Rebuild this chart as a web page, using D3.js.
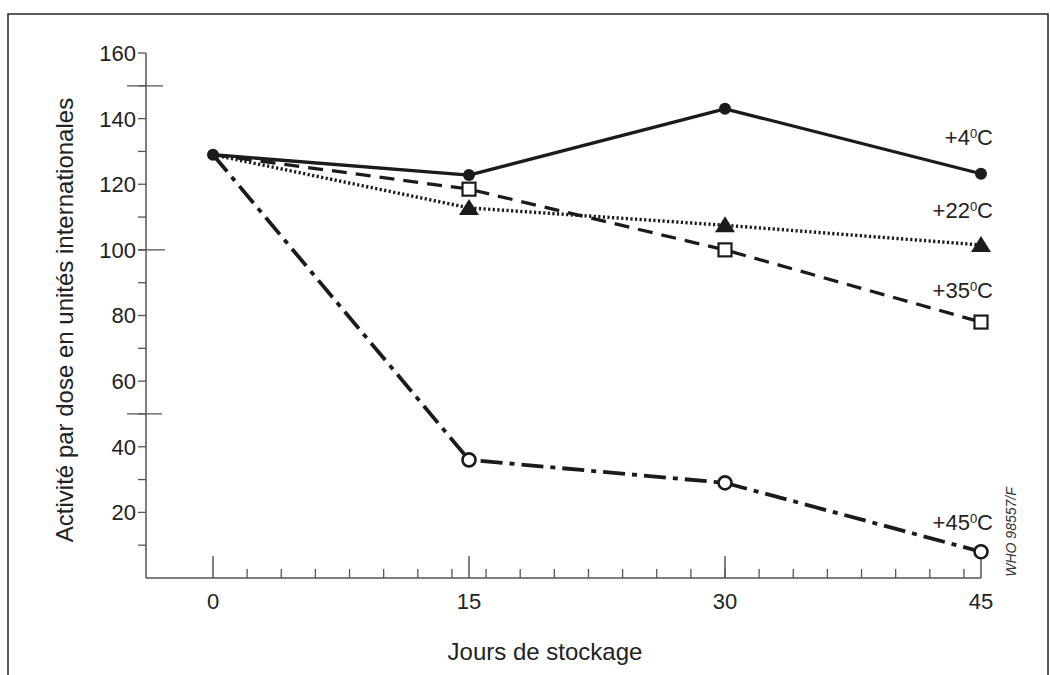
<!DOCTYPE html>
<html>
<head>
<meta charset="utf-8">
<script src="https://cdn.jsdelivr.net/npm/d3@7/dist/d3.min.js"></script>
<style>
  html, body { margin: 0; padding: 0; background: #fff; }
  svg { display: block; font-family: "Liberation Sans", Arial, sans-serif; }
</style>
</head>
<body>
<svg id="chart" width="1050" height="675"></svg>
<script>
// Storage days and activity per dose (international units) for each temperature
const days = [0, 15, 30, 45];
const act4  = [129, 122.8, 143, 123.2];
const act22 = [129, 112.8, 107.5, 101.5];
const act35 = [129, 118.5, 100, 78];
const act45 = [129, 36, 29, 8];
const seriesLabels = ["+4", "+22", "+35", "+45"];
const xTickValues = [0, 15, 30, 45];
const yTickValues = [20, 40, 60, 80, 100, 120, 140, 160];

const svg = d3.select("#chart");
const ink = "#1b1b1b";
const axisInk = "#555";

// frame
svg.append("rect")
  .attr("x", 8).attr("y", 14).attr("width", 1040).attr("height", 700)
  .attr("fill", "none").attr("stroke", "#333").attr("stroke-width", 1.6);

const x = d3.scaleLinear().domain([0, 45]).range([213, 981]);
const y = d3.scaleLinear().domain([0, 160]).range([578, 53]);
const xLeft = 146;

// ---- axes ----
const gAx = svg.append("g");
// y axis line
gAx.append("line").attr("x1", xLeft).attr("x2", xLeft)
  .attr("y1", y(0)).attr("y2", y(160))
  .attr("stroke", axisInk).attr("stroke-width", 1.5);
// x axis line
gAx.append("line").attr("x1", xLeft).attr("x2", x(45))
  .attr("y1", y(0)).attr("y2", y(0))
  .attr("stroke", axisInk).attr("stroke-width", 1.5);

// y ticks every 10 units, pointing left
const yAllTicks = d3.range(10, 161, 10);
gAx.selectAll(".yt").data(yAllTicks).join("line")
  .attr("x1", xLeft - 8).attr("x2", xLeft)
  .attr("y1", d => y(d)).attr("y2", d => y(d))
  .attr("stroke", axisInk).attr("stroke-width", 1.3);
// long cross ticks
const crossTicks = [{v: 150, a: 127, b: 163}, {v: 100, a: 138, b: 165}, {v: 50, a: 127, b: 162}];
gAx.selectAll(".yc").data(crossTicks).join("line")
  .attr("x1", d => d.a).attr("x2", d => d.b)
  .attr("y1", d => y(d.v)).attr("y2", d => y(d.v))
  .attr("stroke", axisInk).attr("stroke-width", 1.3);
// y tick labels
gAx.selectAll(".yl").data(yTickValues).join("text")
  .attr("x", 136).attr("y", d => y(d))
  .attr("dy", "0.36em")
  .attr("text-anchor", "end")
  .attr("font-size", 22).attr("fill", "#222")
  .text(d => d);

// x minor ticks every 2 days, major ticks at 0/15/30/45, pointing up
const xMinor = d3.range(2, 45, 2);
gAx.selectAll(".xm").data(xMinor).join("line")
  .attr("x1", d => x(d)).attr("x2", d => x(d))
  .attr("y1", y(0)).attr("y2", y(0) - 9)
  .attr("stroke", axisInk).attr("stroke-width", 1.3);
gAx.selectAll(".xM").data(xTickValues).join("line")
  .attr("x1", d => x(d)).attr("x2", d => x(d))
  .attr("y1", y(0)).attr("y2", y(0) - 22)
  .attr("stroke", axisInk).attr("stroke-width", 1.5);
gAx.selectAll(".xl").data(xTickValues).join("text")
  .attr("x", d => x(d)).attr("y", 609)
  .attr("text-anchor", "middle")
  .attr("font-size", 22).attr("fill", "#222")
  .text(d => d);

// axis titles
svg.append("text")
  .attr("x", 545).attr("y", 660)
  .attr("text-anchor", "middle")
  .attr("font-size", 24).attr("fill", "#222")
  .text("Jours de stockage");
svg.append("text")
  .attr("transform", "translate(73,320) rotate(-90)")
  .attr("text-anchor", "middle")
  .attr("font-size", 24).attr("fill", "#222")
  .text("Activité par dose en unités internationales");

// reference code
svg.append("text")
  .attr("transform", "translate(1016,532) rotate(-90)")
  .attr("text-anchor", "middle")
  .attr("font-size", 14).attr("font-style", "italic").attr("fill", "#333")
  .text("WHO 98557/F");

// ---- series ----
const line = d3.line().x(d => x(d[0])).y(d => y(d[1]));
const series = [
  {vals: act4,  dash: null,         w: 3.3, label: seriesLabels[0], ly: 145},
  {vals: act22, dash: "2.2,2.4",    w: 3.4, label: seriesLabels[1], ly: 218},
  {vals: act35, dash: "15,9",       w: 3.3, label: seriesLabels[2], ly: 298},
  {vals: act45, dash: "22,7,5,7",   w: 3.8, label: seriesLabels[3], ly: 530}
];
series.forEach(s => {
  s.pts = days.map((d, i) => [d, s.vals[i]]);
  svg.append("path")
    .attr("d", line(s.pts))
    .attr("fill", "none").attr("stroke", ink)
    .attr("stroke-width", s.w)
    .attr("stroke-dasharray", s.dash)
    .attr("stroke-linejoin", "round");
});

// markers
const gm = svg.append("g");
// +45: open circles
gm.selectAll(".m45").data(series[3].pts.slice(1)).join("circle")
  .attr("cx", d => x(d[0])).attr("cy", d => y(d[1])).attr("r", 6.5)
  .attr("fill", "#fff").attr("stroke", ink).attr("stroke-width", 2.6);
// +35: open squares
gm.selectAll(".m35").data(series[2].pts.slice(1)).join("rect")
  .attr("x", d => x(d[0]) - 6.5).attr("y", d => y(d[1]) - 6.5)
  .attr("width", 13).attr("height", 13)
  .attr("fill", "#fff").attr("stroke", ink).attr("stroke-width", 2.2);
// +22: filled triangles
gm.selectAll(".m22").data(series[1].pts.slice(1)).join("path")
  .attr("d", d => {
    const cx = x(d[0]), cy = y(d[1]);
    return `M${cx},${cy - 9}L${cx + 10},${cy + 7}L${cx - 10},${cy + 7}Z`;
  })
  .attr("fill", ink);
// +4: filled circles (also the common starting point)
gm.selectAll(".m4").data(series[0].pts).join("circle")
  .attr("cx", d => x(d[0])).attr("cy", d => y(d[1])).attr("r", 6)
  .attr("fill", ink);

// temperature labels with a raised zero
series.forEach(s => {
  const t = svg.append("text")
    .attr("x", 993).attr("y", s.ly)
    .attr("text-anchor", "end")
    .attr("font-size", 22).attr("fill", "#222");
  t.append("tspan").text(s.label);
  t.append("tspan").attr("font-size", 13).attr("dy", -7).text("0");
  t.append("tspan").attr("dy", 7).text("C");
});
</script>
</body>
</html>
